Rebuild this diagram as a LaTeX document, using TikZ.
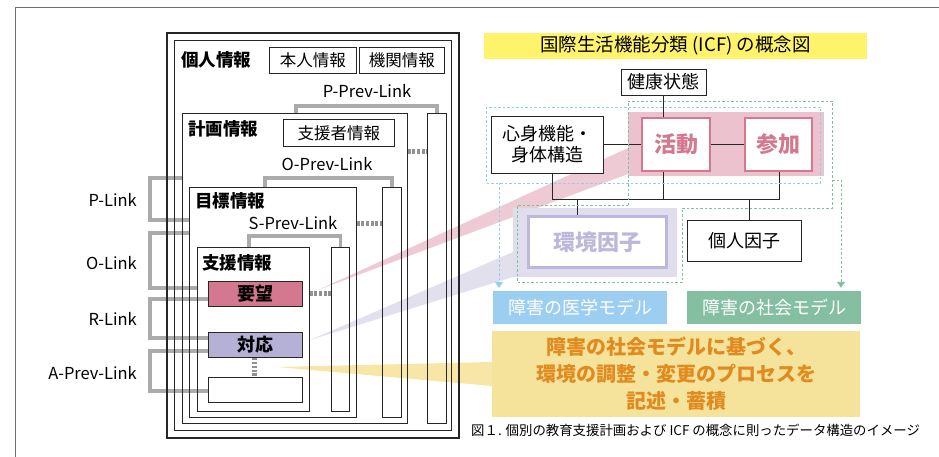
\documentclass[tikz,border=0pt]{standalone}
\usepackage{fontspec}
\setmainfont{Noto Sans CJK JP}
\usepackage{tikz}
\usetikzlibrary{
    arrows.meta,
    calc,
    positioning
}
\pgfdeclarelayer{background}
\pgfsetlayers{background,main}
\definecolor{linkgray}{HTML}{ABABAB}
\definecolor{framegray}{HTML}{6E6E6E}
\definecolor{youbo}{HTML}{D4788F}
\definecolor{taiou}{HTML}{B5B0D6}
\definecolor{pinkband}{HTML}{EBC2CD}
\definecolor{envband}{HTML}{E0DDEC}
\definecolor{envline}{HTML}{BDB7DC}
\definecolor{titleyellow}{HTML}{FFF36C}
\definecolor{boxyellow}{HTML}{F6E39B}
\definecolor{orangetext}{HTML}{E08A20}
\definecolor{medblue}{HTML}{9BCEF0}
\definecolor{socgreen}{HTML}{83BFA0}
\definecolor{dashblue}{HTML}{8ECFF0}
\definecolor{dashgreen}{HTML}{7DC29E}
\tikzset{
    box/.style={draw=black!85, line width=0.8pt, inner sep=0pt, anchor=north west},
    heading/.style={font=\bfseries\fontsize{17.5}{20}\selectfont, anchor=west, inner sep=0pt},
    lbl/.style={font=\fontsize{16.5}{20}\selectfont, inner sep=0pt},
    link/.style={draw=linkgray, line width=3.5pt},
    stub/.style={draw=linkgray!85!black, line width=5pt, dash pattern=on 3pt off 1.6pt},
    icf/.style={draw=black!85, line width=0.8pt, fill=white, inner sep=0pt, font=\fontsize{18}{21}\selectfont},
    icfpink/.style={draw=youbo, line width=2.5pt, fill=white, inner sep=0pt, text=youbo, font=\bfseries\fontsize{22}{24}\selectfont},
    model/.style={inner sep=0pt, text=white, font=\fontsize{18}{21}\selectfont},
    bluedash/.style={draw=dashblue, line width=0.9pt, dash pattern=on 2.5pt off 2pt},
    greendash/.style={draw=dashgreen, line width=0.9pt, dash pattern=on 2.5pt off 2pt}
}
\begin{document}
\begin{tikzpicture}[x=1pt, y=1pt]
\useasboundingbox (0,0) rectangle (939,-457);
\draw[framegray, line width=0.8pt] (939,-7) -- (15,-7) -- (15,-457);

\node[box, line width=2pt, minimum width=292pt, minimum height=405pt] (frame) at (166,-32) {};
\node[box, minimum width=277pt, minimum height=390pt] (kojin) at (174,-40) {};
\node[box, minimum width=225pt, minimum height=310pt] (keikaku) at (182,-113) {};
\node[box, minimum width=167pt, minimum height=230pt] (mokuhyo) at (189,-187) {};
\node[box, minimum width=112pt, minimum height=164pt] (shien) at (197,-247) {};
\node[box, minimum width=19pt, minimum height=310pt] (pcol) at (427,-113) {};
\node[box, minimum width=19pt, minimum height=230pt] (ocol) at (382,-187) {};
\node[box, minimum width=18pt, minimum height=164pt] (scol) at (331,-247) {};

\node[heading] (kojinT) at (181,-60) {個人情報};
\node[heading] (keikakuT) at (188,-129) {計画情報};
\node[heading] (mokuhyoT) at (195,-201) {目標情報};
\node[heading] (shienT) at (202,-263) {支援情報};

\node[box, lbl, minimum width=87pt, minimum height=26pt] (honnin) at (269,-47) {本人情報};
\node[box, lbl, minimum width=85pt, minimum height=26pt] (kikan) at (359,-47) {機関情報};
\node[box, lbl, minimum width=111pt, minimum height=27pt] (shiensha) at (283,-119) {支援者情報};

\node[box, fill=youbo, minimum width=94pt, minimum height=25pt, font=\bfseries\fontsize{18}{20}\selectfont] (yobo) at (208,-281) {要望};
\node[box, fill=taiou, minimum width=94pt, minimum height=25pt, font=\bfseries\fontsize{18}{20}\selectfont] (taio) at (208,-332) {対応};
\node[box, minimum width=94pt, minimum height=25pt] (kiroku) at (208,-377) {};

\node[lbl] (pprevT) at (367,-91) {P-Prev-Link};
\node[lbl] (oprevT) at (327,-164) {O-Prev-Link};
\node[lbl] (sprevT) at (293,-223) {S-Prev-Link};
\node[lbl, anchor=east] (plinkT) at (137,-200) {P-Link};
\node[lbl, anchor=east] (olinkT) at (137,-263) {O-Link};
\node[lbl, anchor=east] (rlinkT) at (137,-319) {R-Link};
\node[lbl, anchor=east] (aprevT) at (137,-373) {A-Prev-Link};

\begin{pgfonlayer}{background}
\fill[pinkband, opacity=0.85] (318,-290) -- (628,-148) -- (628,-174) -- cycle;
\fill[envband, opacity=0.9] (310,-340) -- (513,-252) -- (513,-277) -- cycle;
\fill[boxyellow, opacity=0.9] (277,-367) -- (492,-362) -- (492,-386) -- cycle;
\draw[link] ([xshift=114pt]keikaku.north west) -- ++(0,7) -| (pcol.north);
\draw[link] ([xshift=76pt]mokuhyo.north west) -- ++(0,9) -| (ocol.north);
\draw[link] ([xshift=52pt]shien.north west) -- ++(0,11) -| (scol.north);
\draw[link] (keikaku.west |- 0,-178) -- ++(-32,0) |- (mokuhyo.west |- 0,-220);
\draw[link] (mokuhyo.west |- 0,-233) -- ++(-39,0) |- (shien.west |- 0,-288);
\draw[link] (yobo.west |- 0,-299) -- ++(-58,0) |- (taio.west |- 0,-338);
\draw[link] (taio.west |- 0,-351) -- ++(-58,0) |- (kiroku.west |- 0,-391);
\end{pgfonlayer}

\draw[stub] (keikaku.east |- 0,-152) -- (pcol.west |- 0,-152);
\draw[stub] (mokuhyo.east |- 0,-223) -- (ocol.west |- 0,-223);
\draw[stub] (shien.east |- 0,-293) -- (scol.west |- 0,-293);
\draw[stub, dash pattern=on 2.4pt off 1.5pt] ([xshift=-1pt]taio.south) -- ([xshift=-1pt]kiroku.north);

\node[fill=titleyellow, inner sep=0pt, minimum width=383pt, minimum height=26pt, font=\fontsize{18.5}{20}\selectfont] (ttl) at (675.5,-46) {国際生活機能分類 (ICF) の概念図};

\fill[pinkband] (628,-112) rectangle (824,-176);
\fill[envband] (513,-208) rectangle (677,-277);

\node[icf, minimum width=85pt, minimum height=26pt] (kenko) at (663.5,-82) {健康状態};
\node[icf, minimum width=112pt, minimum height=57pt, align=center] (shinshin) at (547,-144.5) {心身機能・\\身体構造};
\node[icfpink, minimum width=68pt, minimum height=53pt] (katsudo) at (676,-144.5) {活動};
\node[icfpink, minimum width=67pt, minimum height=53pt] (sanka) at (778.5,-144.5) {参加};
\node[icf, draw=envline, line width=3pt, text=envline, font=\bfseries\fontsize{22}{24}\selectfont, minimum width=138pt, minimum height=51pt] (kankyo) at (597.5,-242) {環境因子};
\node[icf, minimum width=114pt, minimum height=41pt] (kojinin) at (744,-240.5) {個人因子};
\node[model, fill=medblue, minimum width=174pt, minimum height=33pt] (igaku) at (580,-307.5) {障害の医学モデル};
\node[model, fill=socgreen, minimum width=174pt, minimum height=33pt] (shakai) at (774,-307.5) {障害の社会モデル};
\node[fill=boxyellow, inner sep=0pt, minimum width=368pt, minimum height=86pt, align=center, text=orangetext, font=\bfseries\fontsize{20}{27}\selectfont] (teian) at (676,-374) {障害の社会モデルに基づく、\\環境の調整・変更のプロセスを\\記述・蓄積};
\node[anchor=west, inner sep=0pt, font=\fontsize{13.4}{15}\selectfont] (caption) at (471,-430) {図１. 個別の教育支援計画および ICF の概念に則ったデータ構造のイメージ};

\coordinate (busL) at (552,-199);
\coordinate (busR) at (779,-199);
\draw[black!85, line width=0.8pt]
    (shinshin.east) -- (katsudo.west)
    (katsudo.east) -- (sanka.west)
    (kenko.south) -- (kenko.south |- katsudo.north)
    (busL |- shinshin.south) -- (busL) -- (busR) -- (busR |- sanka.south)
    (kenko.south |- katsudo.south) -- (kenko.south |- busL)
    (577,-199) -- (kankyo.north -| 577,0)
    (749,-199) -- (kojinin.north -| 749,0);

\draw[bluedash] (486,-107) rectangle (820,-183);
\draw[bluedash, -{Triangle[width=8pt, length=6pt]}, shorten >=3pt] (499,-183) -- (igaku.north -| 499,0);
\draw[greendash] (628,-205) -- (628,-101) -- (832,-101) -- (832,-208) -- (682,-208) -- (682,-282) -- (517,-282) -- (517,-205) -- cycle;
\draw[greendash, -{Triangle[width=8pt, length=6pt]}, shorten >=3pt] (832,-180) -- (841,-180) -- (shakai.north -| 841,0);
\end{tikzpicture}
\end{document}
